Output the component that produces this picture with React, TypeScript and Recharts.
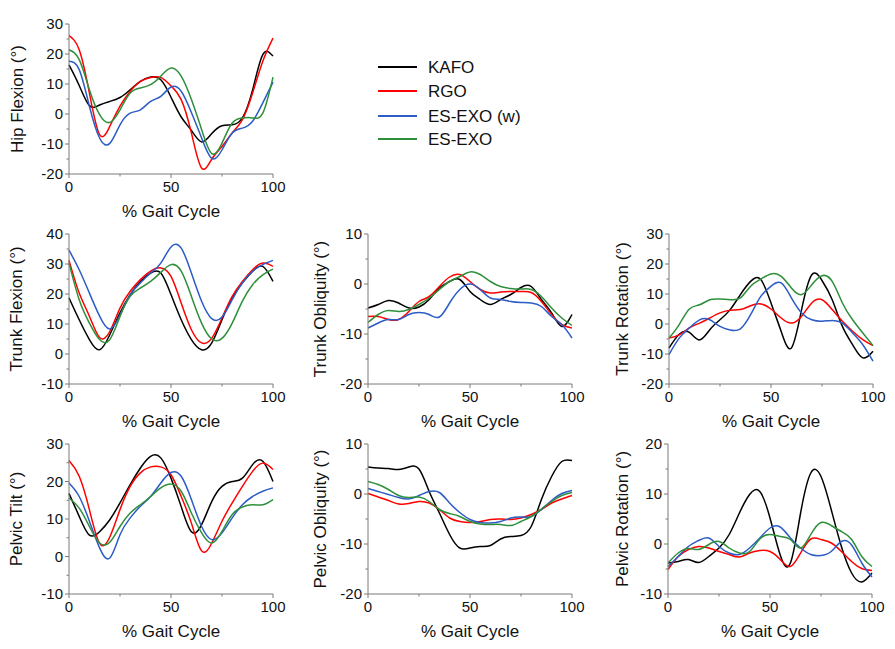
import React from 'react';
import { LineChart, Line, XAxis, YAxis } from 'recharts';

const gaitCycle = [0, 5, 10, 15, 20, 25, 30, 35, 40, 45, 50, 55, 60, 65, 70, 75, 80, 85, 90, 95, 100];
const seriesNames = ['KAFO', 'RGO', 'ES-EXO (w)', 'ES-EXO'];
const seriesColors = ['#000000', '#ff0000', '#2c5cc6', '#2e8f3a'];
const xTicks = [0, 25, 50, 75, 100];

// Hip Flexion
const hipKAFO = [16.4, 9.5, 2.8, 3.0, 4.2, 5.5, 8.1, 10.9, 12.3, 11.4, 5.6, -1.0, -5.5, -9.3, -6.5, -3.9, -3.6, -1.3, 8.0, 19.8, 19.3];
const hipRGO = [26.1, 21.4, 7.0, -6.9, -4.1, 2.6, 7.6, 10.9, 12.2, 12.2, 9.4, 4.8, -6.3, -18.0, -15.0, -10.8, -6.3, -1.9, 7.0, 17.6, 25.3];
const hipESEXOw = [17.6, 14.8, 2.6, -8.0, -9.8, -3.6, 0.3, 1.4, 4.2, 5.9, 9.0, 7.6, 0.5, -8.0, -14.8, -12.0, -6.3, -4.7, -2.4, 3.7, 10.6];
const hipESEXO = [21.4, 18.1, 8.1, -0.2, -2.8, 1.4, 7.0, 8.7, 9.8, 12.6, 15.3, 12.6, 4.8, -5.2, -13.2, -9.7, -3.0, -1.3, -1.3, 0.3, 12.3];

// Trunk Flexion
const tflexKAFO = [18.7, 11.4, 4.8, 1.4, 6.4, 13.7, 19.8, 24.2, 27.0, 27.0, 19.8, 11.4, 4.8, 1.4, 3.7, 11.4, 18.7, 23.7, 27.6, 29.2, 24.2];
const tflexRGO = [31.2, 20.3, 12.6, 5.5, 7.5, 15.3, 20.9, 24.8, 27.6, 28.7, 25.9, 17.0, 8.1, 3.7, 5.3, 12.0, 19.2, 24.2, 28.1, 30.3, 29.2];
const tflexESEXOw = [34.6, 28.1, 20.3, 12.6, 8.3, 13.0, 19.8, 23.7, 27.0, 30.3, 35.7, 35.3, 27.0, 17.6, 11.8, 12.3, 18.1, 23.7, 27.6, 29.8, 31.2];
const tflexESEXO = [30.3, 18.1, 10.3, 4.8, 4.8, 12.5, 19.2, 22.0, 24.2, 27.2, 29.8, 27.6, 19.2, 10.3, 5.0, 5.2, 10.3, 17.6, 23.1, 26.4, 28.3];

// Trunk Obliquity
const toblKAFO = [-4.8, -4.1, -3.3, -3.8, -4.8, -4.6, -3.1, -0.8, 0.5, 0.9, -1.5, -3.1, -4.1, -3.1, -2.1, -0.7, -0.5, -3.1, -5.8, -8.5, -6.1];
const toblRGO = [-6.5, -6.5, -7.1, -7.1, -5.5, -3.5, -2.5, -0.5, 1.4, 1.9, 0.5, -1.1, -1.8, -1.6, -1.5, -1.5, -1.7, -3.5, -6.1, -8.1, -8.8];
const toblESEXOw = [-8.8, -7.8, -7.1, -7.1, -6.1, -5.7, -6.1, -6.6, -3.8, -1.1, 0.0, -1.1, -2.8, -3.1, -3.5, -3.7, -3.8, -4.5, -6.5, -8.1, -10.8];
const toblESEXO = [-7.7, -6.1, -5.3, -5.5, -5.1, -4.1, -2.8, -1.1, 0.5, 1.5, 2.4, 1.9, 0.5, -0.5, -0.9, -1.0, -1.1, -2.5, -4.8, -6.8, -8.3];

// Trunk Rotation
const trotKAFO = [-8.0, -3.4, -2.8, -5.3, -1.9, 1.4, 4.8, 9.8, 14.2, 14.8, 7.0, -2.5, -8.0, 4.8, 16.4, 14.5, 8.1, -0.8, -6.9, -11.3, -9.1];
const trotRGO = [-4.7, -3.6, -1.3, 0.3, 2.0, 3.7, 4.6, 4.8, 6.1, 6.7, 5.0, 2.0, 0.3, 2.6, 7.0, 8.1, 4.8, 0.9, -2.4, -5.2, -7.2];
const trotESEXOw = [-10.2, -4.7, -1.3, 1.4, 1.4, -0.8, -2.0, -1.6, 3.1, 9.2, 12.6, 13.7, 8.7, 3.7, 1.4, 0.9, 1.2, 0.3, -3.0, -6.9, -12.4];
const trotESEXO = [-4.7, -0.2, 5.0, 6.4, 8.1, 8.3, 8.1, 8.7, 12.6, 15.0, 16.7, 15.9, 12.0, 9.8, 13.1, 16.1, 14.2, 7.0, 1.4, -3.0, -7.2];

// Pelvic Tilt
const ptiltKAFO = [16.8, 10.7, 5.7, 6.6, 9.8, 14.3, 19.2, 23.6, 26.7, 26.3, 20.9, 13.3, 6.6, 8.5, 14.7, 18.7, 20.0, 20.9, 24.5, 25.4, 20.0];
const ptiltRGO = [25.6, 21.4, 12.5, 3.5, 5.2, 12.5, 18.7, 22.3, 23.9, 23.9, 21.8, 16.0, 8.9, 1.5, 3.6, 9.4, 14.3, 18.7, 22.7, 24.9, 23.2];
const ptiltESEXOw = [19.6, 16.0, 9.4, 2.3, -0.4, 5.8, 10.3, 13.4, 16.0, 19.6, 22.4, 21.4, 15.2, 8.0, 4.5, 6.3, 10.3, 13.8, 16.0, 17.4, 18.3];
const ptiltESEXO = [15.6, 12.9, 8.0, 3.6, 3.8, 8.0, 11.6, 13.8, 16.0, 18.3, 19.3, 17.4, 11.6, 6.3, 3.6, 6.7, 11.2, 13.2, 13.8, 13.8, 15.2];

// Pelvic Obliquity
const poblKAFO = [5.4, 5.2, 5.1, 4.9, 5.4, 5.0, 0.5, -3.8, -8.1, -10.8, -10.8, -10.5, -10.3, -9.0, -8.5, -8.3, -6.5, -1.1, 3.5, 6.5, 6.7];
const poblRGO = [0.1, -0.6, -1.3, -2.0, -1.9, -1.5, -1.8, -3.1, -4.8, -5.5, -5.7, -5.5, -5.1, -5.0, -5.1, -4.8, -4.1, -3.1, -1.8, -1.0, -0.3];
const poblESEXOw = [1.1, 0.5, -0.1, -0.7, -1.0, -0.3, 0.5, 0.3, -1.8, -3.7, -5.1, -5.7, -5.8, -5.5, -4.8, -4.6, -4.5, -3.1, -1.3, 0.1, 0.7];
const poblESEXO = [2.5, 1.9, 0.9, -0.3, -0.7, -0.6, -1.5, -3.1, -3.9, -4.5, -5.5, -6.0, -6.1, -6.1, -6.3, -5.5, -4.5, -3.0, -1.5, -0.3, 0.3];

// Pelvic Rotation
const protKAFO = [-3.8, -3.5, -3.1, -3.7, -2.5, -0.8, 1.9, 6.2, 9.9, 10.5, 5.2, -2.2, -3.8, 6.2, 14.2, 13.5, 6.9, -0.5, -5.8, -7.6, -5.8];
const protRGO = [-5.1, -2.5, -1.1, -0.5, -0.8, -1.5, -2.1, -2.6, -1.8, -1.3, -1.5, -3.1, -4.5, -1.8, 1.0, 0.9, 0.2, -1.5, -3.5, -4.9, -5.3];
const protESEXOw = [-4.5, -2.5, -0.5, 0.7, 1.2, -0.5, -1.8, -2.1, -0.8, 1.2, 3.2, 3.4, 1.2, -0.8, -2.1, -2.3, -1.5, 0.5, -0.2, -3.8, -6.6];
const protESEXO = [-3.8, -1.8, -0.9, -1.1, -0.1, 0.5, -0.8, -1.8, -1.5, 1.0, 1.9, 1.5, 0.9, -0.8, 1.9, 4.3, 3.7, 2.5, 0.9, -2.5, -4.5];

const FONT = '"Liberation Sans", Arial, Helvetica, sans-serif';
const AXIS_COLOR = '#7a7a7a';
const PLOT_W = 204;
const PLOT_H = 150;
const Y_AXIS_W = 70;
const MARGIN_TOP = 10;
const MARGIN_RIGHT = 20;
const X_AXIS_H = 60;
const TICK_MARGIN_Y = 6;
const TICK_MARGIN_X = 7;

type Panel = {
  title: string;
  left: number;
  top: number;
  domain: [number, number];
  labelDist: number;
  series: number[][];
};

const panels: Panel[] = [
  { title: 'Hip Flexion (°)', left: 69, top: 24, domain: [-20, 30], labelDist: 52, series: [hipKAFO, hipRGO, hipESEXOw, hipESEXO] },
  { title: 'Trunk Flexion (°)', left: 69, top: 234, domain: [-10, 40], labelDist: 53, series: [tflexKAFO, tflexRGO, tflexESEXOw, tflexESEXO] },
  { title: 'Trunk Obliquity (°)', left: 368, top: 234, domain: [-20, 10], labelDist: 48, series: [toblKAFO, toblRGO, toblESEXOw, toblESEXO] },
  { title: 'Trunk Rotation (°)', left: 669, top: 234, domain: [-20, 30], labelDist: 47, series: [trotKAFO, trotRGO, trotESEXOw, trotESEXO] },
  { title: 'Pelvic Tilt (°)', left: 69, top: 444, domain: [-10, 30], labelDist: 53, series: [ptiltKAFO, ptiltRGO, ptiltESEXOw, ptiltESEXO] },
  { title: 'Pelvic Obliquity (°)', left: 368, top: 444, domain: [-20, 10], labelDist: 48, series: [poblKAFO, poblRGO, poblESEXOw, poblESEXO] },
  { title: 'Pelvic Rotation (°)', left: 668, top: 444, domain: [-10, 20], labelDist: 46, series: [protKAFO, protRGO, protESEXOw, protESEXO] },
];

function buildRows(series: number[][]) {
  return gaitCycle.map((g, i) => {
    const row: Record<string, number> = { g };
    series.forEach((s, k) => {
      row['s' + k] = s[i];
    });
    return row;
  });
}

function range(a: number, b: number, step: number) {
  const out: number[] = [];
  for (let v = a; v <= b + 1e-9; v += step) out.push(v);
  return out;
}

const YTick = (props: any) => {
  const { x, y, payload } = props;
  const v = payload.value;
  const major = Math.abs(v % 10) < 1e-9;
  const ax = x + TICK_MARGIN_Y;
  return (
    <g>
      <line x1={ax} x2={ax - (major ? 4 : 2.5)} y1={y} y2={y} stroke={AXIS_COLOR} strokeWidth={1} />
      {major && (
        <text x={x} y={y} dy="0.36em" textAnchor="end" fontSize={15} fontFamily={FONT} fill="#111">
          {v}
        </text>
      )}
    </g>
  );
};

const XTick = (props: any) => {
  const { x, y, payload } = props;
  const v = payload.value;
  const major = v % 50 === 0;
  const ay = y - TICK_MARGIN_X;
  return (
    <g>
      <line x1={x} x2={x} y1={ay} y2={ay + (major ? 4 : 2.5)} stroke={AXIS_COLOR} strokeWidth={1} />
      {major && (
        <text x={x} y={y} dy="0.72em" textAnchor="middle" fontSize={15} fontFamily={FONT} fill="#111">
          {v}
        </text>
      )}
    </g>
  );
};

const YLabel = ({ text, dist }: { text: string; dist: number }) => {
  const cx = Y_AXIS_W - dist;
  const cy = MARGIN_TOP + PLOT_H / 2;
  return (
    <text
      x={cx}
      y={cy}
      dy="0.35em"
      transform={`rotate(-90, ${cx}, ${cy})`}
      textAnchor="middle"
      fontSize={17}
      fontFamily={FONT}
      fill="#111"
    >
      {text}
    </text>
  );
};

const XLabel = () => {
  const cx = Y_AXIS_W + PLOT_W / 2;
  const cy = MARGIN_TOP + PLOT_H + 43;
  return (
    <text x={cx} y={cy} textAnchor="middle" fontSize={17} fontFamily={FONT} fill="#111">
      % Gait Cycle
    </text>
  );
};

function PanelChart({ panel }: { panel: Panel }) {
  const rows = buildRows(panel.series);
  const width = Y_AXIS_W + PLOT_W + MARGIN_RIGHT;
  const height = MARGIN_TOP + PLOT_H + X_AXIS_H;
  return (
    <div style={{ position: 'absolute', left: panel.left - Y_AXIS_W, top: panel.top - MARGIN_TOP, width, height }}>
      <LineChart width={width} height={height} data={rows} margin={{ top: MARGIN_TOP, right: MARGIN_RIGHT, bottom: 0, left: 0 }}>
        <XAxis
          dataKey="g"
          type="number"
          domain={[0, 100]}
          ticks={xTicks}
          interval={0}
          tickSize={0}
          tickMargin={TICK_MARGIN_X}
          tickLine={false}
          tick={<XTick />}
          height={X_AXIS_H}
          axisLine={{ stroke: AXIS_COLOR, strokeWidth: 1 }}
          label={<XLabel />}
        />
        <YAxis
          type="number"
          domain={panel.domain}
          ticks={range(panel.domain[0], panel.domain[1], 5)}
          interval={0}
          allowDataOverflow
          tickSize={0}
          tickMargin={TICK_MARGIN_Y}
          tickLine={false}
          tick={<YTick />}
          width={Y_AXIS_W}
          axisLine={{ stroke: AXIS_COLOR, strokeWidth: 1 }}
          label={<YLabel text={panel.title} dist={panel.labelDist} />}
        />
        {seriesNames.map((name, k) => (
          <Line
            key={name}
            name={name}
            dataKey={'s' + k}
            type="natural"
            stroke={seriesColors[k]}
            strokeWidth={1.5}
            dot={false}
            activeDot={false}
            isAnimationActive={false}
          />
        ))}
      </LineChart>
    </div>
  );
}

function LegendBox() {
  const rowsY = [67, 91, 116, 139];
  return (
    <svg style={{ position: 'absolute', left: 0, top: 0 }} width={895} height={200}>
      {seriesNames.map((name, k) => (
        <g key={name}>
          <line x1={378} x2={417} y1={rowsY[k]} y2={rowsY[k]} stroke={seriesColors[k]} strokeWidth={1.8} />
          <text x={428} y={rowsY[k]} dy="0.36em" fontSize={17} fontFamily={FONT} fill="#111">
            {name}
          </text>
        </g>
      ))}
    </svg>
  );
}

export default function App() {
  return (
    <div style={{ position: 'absolute', left: 0, top: 0, width: 895, height: 649, background: '#ffffff', overflow: 'hidden' }}>
      <LegendBox />
      {panels.map((p) => (
        <PanelChart key={p.title} panel={p} />
      ))}
    </div>
  );
}
